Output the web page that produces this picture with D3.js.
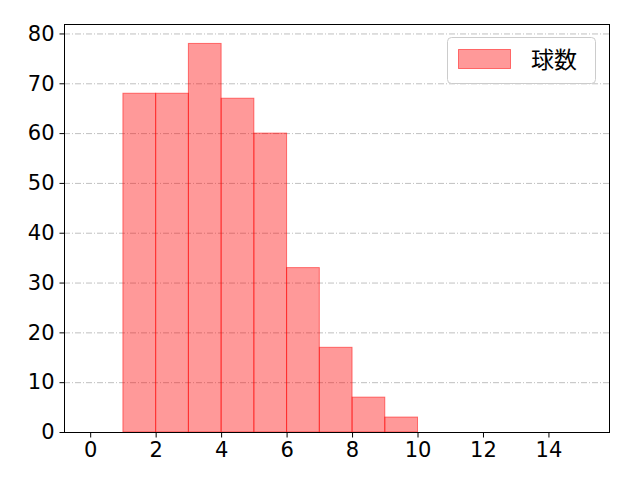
<!DOCTYPE html>
<html>
<head>
<meta charset="utf-8">
<style>
  body { margin: 0; background: #fff; }
  svg { display: block; font-family: "Noto Sans CJK JP", "Noto Sans", sans-serif; }
</style>
</head>
<body>
<div id="chart"></div>
<script src="https://cdnjs.cloudflare.com/ajax/libs/d3/7.8.5/d3.min.js"></script>
<script>
'use strict';

var binStarts = [1, 2, 3, 4, 5, 6, 7, 8, 9];
var counts = [68, 68, 78, 67, 60, 33, 17, 7, 3];
var xTicks = [0, 2, 4, 6, 8, 10, 12, 14];
var yTicks = [0, 10, 20, 30, 40, 50, 60, 70, 80];
var legendLabel = '球数';

var W = 640, H = 480;
var plotL = 64, plotR = 609, plotT = 24, plotB = 432;

var x = d3.scaleLinear().domain([-0.8, 15.85]).range([plotL, plotR]);
var y = d3.scaleLinear().domain([0, 81.9]).range([plotB, plotT]);

var svg = d3.select('#chart').append('svg')
  .attr('width', W).attr('height', H);

// grid
svg.append('g').selectAll('line')
  .data(yTicks.slice(1))
  .enter().append('line')
  .attr('x1', plotL).attr('x2', plotR)
  .attr('y1', function(d) { return y(d) + 0.5; })
  .attr('y2', function(d) { return y(d) + 0.5; })
  .attr('stroke', '#b0b0b0')
  .attr('stroke-width', 0.8)
  .attr('stroke-dasharray', '6,2,1,2');

// bars
svg.append('g').selectAll('rect')
  .data(binStarts)
  .enter().append('rect')
  .attr('x', function(d) { return x(d); })
  .attr('y', function(d, i) { return y(counts[i]); })
  .attr('width', function(d) { return x(d + 1) - x(d); })
  .attr('height', function(d, i) { return y(0) - y(counts[i]); })
  .attr('fill', 'rgba(255,0,0,0.4)')
  .attr('stroke', 'rgba(255,0,0,0.5)')
  .attr('stroke-width', 1);

// frame
svg.append('rect')
  .attr('x', plotL + 0.5).attr('y', plotT + 0.5)
  .attr('width', plotR - plotL).attr('height', plotB - plotT)
  .attr('fill', 'none').attr('stroke', '#000').attr('stroke-width', 1);

var xAxis = svg.append('g')
  .attr('transform', 'translate(0,' + (plotB + 0.5) + ')')
  .call(d3.axisBottom(x).tickValues(xTicks).tickSize(5).tickPadding(5));
var yAxis = svg.append('g')
  .attr('transform', 'translate(' + (plotL + 0.5) + ',0)')
  .call(d3.axisLeft(y).tickValues(yTicks).tickSize(5).tickPadding(5));

[xAxis, yAxis].forEach(function(g) {
  g.select('.domain').remove();
  g.selectAll('text').attr('font-size', 21).attr('fill', '#000')
    .attr('font-family', '"DejaVu Sans", sans-serif');
  g.selectAll('line').attr('stroke', '#000');
});

// legend
var lg = svg.append('g');
lg.append('rect')
  .attr('x', 447.5).attr('y', 37.5).attr('width', 148).attr('height', 46)
  .attr('rx', 4).attr('fill', 'rgba(255,255,255,0.8)')
  .attr('stroke', '#cccccc').attr('stroke-width', 1);
lg.append('rect')
  .attr('x', 458.5).attr('y', 49.5).attr('width', 52).attr('height', 19)
  .attr('fill', 'rgba(255,0,0,0.4)').attr('stroke', 'rgba(255,0,0,0.5)');
lg.append('text')
  .attr('x', 531).attr('y', 68)
  .attr('font-size', 23).attr('fill', '#000')
  .text(legendLabel);
</script>
</body>
</html>
